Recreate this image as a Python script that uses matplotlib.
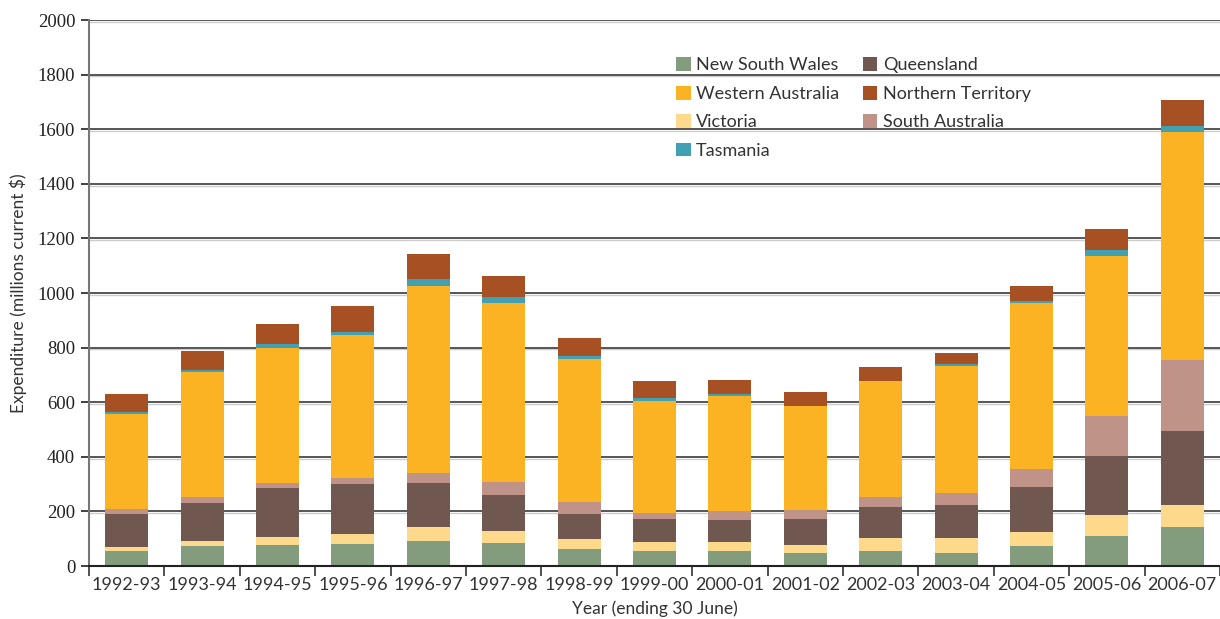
import numpy as np
import matplotlib.pyplot as plt
import matplotlib.transforms as mtransforms

years = ['1992-93', '1993-94', '1994-95', '1995-96', '1996-97', '1997-98', '1998-99',
         '1999-00', '2000-01', '2001-02', '2002-03', '2003-04', '2004-05', '2005-06', '2006-07']

# stacked bottom to top
nsw = [56, 74, 77, 79, 91, 84, 62, 55, 55, 48, 56, 48, 73, 111, 143]
vic = [15, 17, 29, 38, 52, 44, 37, 33, 33, 29, 46, 54, 51, 75, 80]
qld = [120, 139, 179, 184, 160, 132, 91, 84, 80, 95, 114, 121, 165, 216, 271]
sa = [19, 22, 18, 21, 37, 47, 44, 22, 33, 33, 36, 44, 66, 146, 259]
wa = [347, 457, 494, 523, 687, 655, 523, 409, 421, 380, 424, 464, 607, 589, 837]
tas = [7, 8, 15, 14, 26, 22, 11, 11, 7, 1, 1, 8, 7, 22, 22]
nt = [65, 69, 76, 95, 91, 80, 66, 62, 51, 51, 51, 43, 55, 77, 96]

series = [
    ('New South Wales', nsw, '#839c7e'),
    ('Victoria', vic, '#fdd98b'),
    ('Queensland', qld, '#705750'),
    ('South Australia', sa, '#bf9388'),
    ('Western Australia', wa, '#fbb323'),
    ('Tasmania', tas, '#41a0b1'),
    ('Northern Territory', nt, '#a65023'),
]

sans = ['Lato', 'DejaVu Sans']
serif = ['Liberation Serif', 'DejaVu Serif']

fig = plt.figure(figsize=(12.2, 6.19), dpi=100)
ax = fig.add_axes([0.073, 0.0856, 0.927, 0.882])

x = np.arange(len(years))
bottom = np.zeros(len(years))
bars = {}
for name, vals, color in series:
    bars[name] = ax.bar(x, vals, width=0.57, bottom=bottom, color=color, zorder=3, label=name)
    bottom += np.array(vals)

ax.set_xlim(-0.5, len(years) - 0.5)
ax.set_ylim(0, 2000)
yt = np.arange(0, 2001, 200)
ax.set_yticks(yt)
ax.set_yticklabels([str(v) for v in yt], family=serif, fontsize=13.5, color='#222222')

# gridlines with a light shadow underneath
shadow = mtransforms.offset_copy(ax.get_yaxis_transform(), fig=fig, x=0, y=-1.3, units='points')
for v in yt[1:]:
    ax.plot([0, 1], [v, v], color='#cccccc', lw=1.0, zorder=1, transform=shadow, clip_on=False)
    ax.axhline(v, color='#3a3a3a', lw=1.2, zorder=2)

ax.set_xticks(x)
ax.set_xticklabels(years, family=sans, fontsize=13, color='#333333')
ax.set_xticks(np.arange(-0.5, len(years)), minor=True)
ax.tick_params(axis='x', which='major', length=0, pad=8)
ax.tick_params(axis='x', which='minor', length=7, width=1.2, color='#333333')
ax.tick_params(axis='y', length=6, width=1.3, color='#333333', pad=4)

for s in ['top', 'right']:
    ax.spines[s].set_visible(False)
ax.spines['left'].set_color('#777777')
ax.spines['left'].set_linewidth(1.5)
ax.spines['bottom'].set_color('#222222')
ax.spines['bottom'].set_linewidth(1.5)
ax.spines['bottom'].set_zorder(4)

ax.set_ylabel('Expenditure (millions current $)', family=sans, fontsize=12.5, color='#333333', labelpad=8)
ax.set_xlabel('Year (ending 30 June)', family=sans, fontsize=12.5, color='#333333', labelpad=5)

order = ['New South Wales', 'Western Australia', 'Victoria', 'Tasmania',
         'Queensland', 'Northern Territory', 'South Australia']
leg = ax.legend([bars[n] for n in order], order, ncol=2, frameon=False,
                loc='upper left', bbox_to_anchor=(0.547, 0.922), bbox_transform=fig.transFigure,
                prop={'family': sans, 'size': 13}, handlelength=0.8, handleheight=0.8,
                handletextpad=0.3, labelspacing=0.68, columnspacing=1.3, borderpad=0)
for t in leg.get_texts():
    t.set_color('#333333')

fig.savefig('out.png', dpi=100)
